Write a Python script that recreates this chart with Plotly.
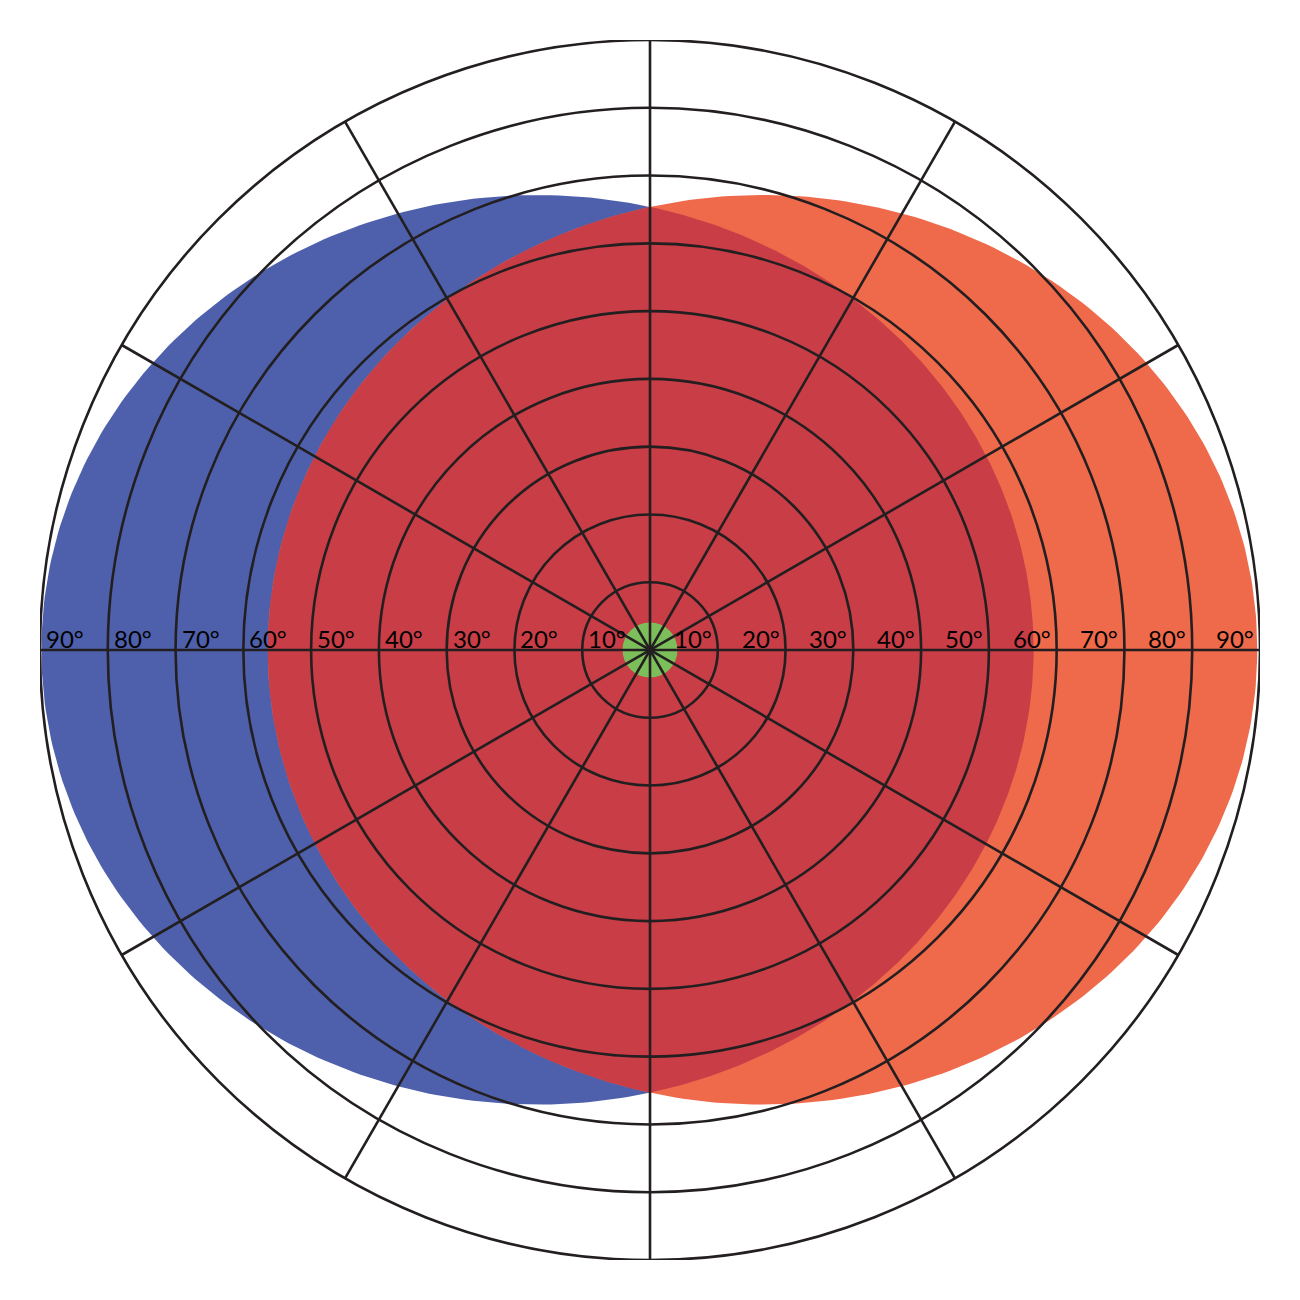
import numpy as np
import plotly.graph_objects as go

# ---- data (degrees of visual field) ----
ring_values = [10, 20, 30, 40, 50, 60, 70, 80, 90]
ring_labels = ["10°", "20°", "30°", "40°", "50°", "60°", "70°", "80°", "90°"]
spoke_angles = [0, 30, 60, 90, 120, 150]

left_field_center = [-16.6, 0.03]     # blue (left eye)
left_field_axes = [73.2, 67.1]
right_field_center = [16.6, 0.03]     # orange (right eye)
right_field_axes = [73.0, 67.1]
fixation_radius_px = 55

BLUE = "#4E60AB"
ORANGE = "#EF694B"
RED = "#C83D46"
GREEN = "#7CBE5A"
LINE = "#231F20"


def ellipse_pts(c, ax, n=400):
    t = np.linspace(0, 2 * np.pi, n)
    return c[0] + ax[0] * np.cos(t), c[1] + ax[1] * np.sin(t)


def ray_r(c, ax, th):
    u, v = np.cos(th), np.sin(th)
    A = u**2 / ax[0]**2 + v**2 / ax[1]**2
    B = -2 * (u * c[0] / ax[0]**2 + v * c[1] / ax[1]**2)
    C = c[0]**2 / ax[0]**2 + c[1]**2 / ax[1]**2 - 1
    return (-B + np.sqrt(B**2 - 4 * A * C)) / (2 * A)


fig = go.Figure()

bx, by = ellipse_pts(left_field_center, left_field_axes)
fig.add_trace(go.Scatter(x=bx, y=by, fill="toself", fillcolor=BLUE, mode="lines",
                         line=dict(width=0), hoverinfo="skip", showlegend=False))
ox, oy = ellipse_pts(right_field_center, right_field_axes)
fig.add_trace(go.Scatter(x=ox, y=oy, fill="toself", fillcolor=ORANGE, mode="lines",
                         line=dict(width=0), hoverinfo="skip", showlegend=False))

th = np.linspace(0, 2 * np.pi, 720)
rr = np.minimum(ray_r(left_field_center, left_field_axes, th),
                ray_r(right_field_center, right_field_axes, th))
fig.add_trace(go.Scatter(x=rr * np.cos(th), y=rr * np.sin(th), fill="toself", fillcolor=RED,
                         mode="lines", line=dict(width=0), hoverinfo="skip", showlegend=False))

fig.add_trace(go.Scatter(x=[0], y=[0], mode="markers",
                         marker=dict(size=fixation_radius_px, color=GREEN, line=dict(width=0)),
                         hoverinfo="skip", showlegend=False))

shapes = []
for r in ring_values:
    shapes.append(dict(type="circle", xref="x", yref="y", x0=-r, x1=r, y0=-r, y1=r,
                       line=dict(color=LINE, width=2.6), layer="above"))
R = max(ring_values)
for a in spoke_angles:
    ar = np.deg2rad(a)
    shapes.append(dict(type="line", xref="x", yref="y",
                       x0=-R * np.cos(ar), y0=-R * np.sin(ar),
                       x1=R * np.cos(ar), y1=R * np.sin(ar),
                       line=dict(color=LINE, width=2.6), layer="above"))

annotations = []
for r, lab in zip(ring_values, ring_labels):
    annotations.append(dict(x=-r, y=0, xref="x", yref="y", text=lab, showarrow=False,
                            xanchor="left", yanchor="bottom", xshift=4, yshift=-5,
                            font=dict(family="Lato", size=24, color="#000000")))
    annotations.append(dict(x=r, y=0, xref="x", yref="y", text=lab, showarrow=False,
                            xanchor="right", yanchor="bottom", xshift=-4, yshift=-5,
                            font=dict(family="Lato", size=24, color="#000000")))

fig.update_layout(
    width=1300, height=1300,
    margin=dict(l=32, r=48, t=32, b=48),
    paper_bgcolor="white", plot_bgcolor="white",
    xaxis=dict(range=[-90, 90], visible=False, showgrid=False, zeroline=False),
    yaxis=dict(range=[-90, 90], visible=False, showgrid=False, zeroline=False,
               scaleanchor="x", scaleratio=1),
    shapes=shapes, annotations=annotations,
)

fig.write_html("out.html")
